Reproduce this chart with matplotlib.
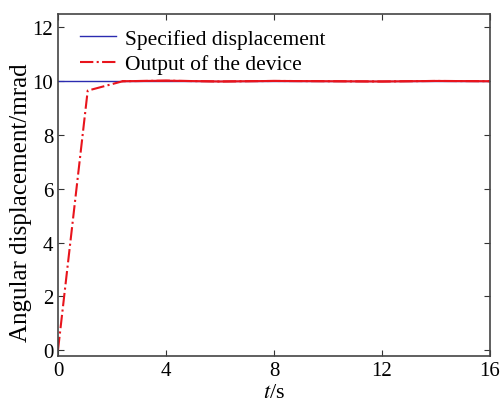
import matplotlib

matplotlib.use("Agg")
import matplotlib.pyplot as plt

# specified displacement (step to 10 mrad)
spec_t = [0, 16]
spec_val = [10, 10]

# device output
out_t = [0, 1.1, 2.4, 4, 6, 8, 10, 12, 14, 16]
out_val = [0, 9.65, 10.0, 10.02, 9.99, 10.01, 10.0, 9.99, 10.01, 10.0]
settle_idx = 2  # after this the trace is a dense noisy line that reads as solid

x_ticks = [0, 4, 8, 12, 16]
y_ticks = [0, 2, 4, 6, 8, 10, 12]

plt.rcParams["font.family"] = ["Liberation Serif", "DejaVu Serif"]
plt.rcParams["mathtext.fontset"] = "stix"

fig = plt.figure(figsize=(5.02, 4.02), dpi=100)
ax = fig.add_axes([58 / 502, 1 - 357 / 402, 432 / 502, 342 / 402])

red = "#e8141c"
ax.plot(spec_t, spec_val, color="#2b2bb0", lw=1.0, label="Specified displacement")
ax.plot(out_t, out_val, color=red, lw=1.5, ls="-.", label="Output of the device")
ax.plot(out_t[settle_idx:], out_val[settle_idx:], color=red, lw=1.5)

ax.set_xlim(0, 16)
ax.set_ylim(-0.22, 12.5)
ax.set_xticks(x_ticks)
ax.set_yticks(y_ticks)
ax.tick_params(direction="in", labelsize=15, length=4, color="#333333",
               top=True, right=True)
for s in ax.spines.values():
    s.set_color("#444444")
    s.set_linewidth(1.2)

ax.set_xlabel("$t$/s", fontsize=16, labelpad=2)
ax.set_ylabel("Angular displacement/mrad", fontsize=18)
ax.yaxis.set_label_coords(-0.06, 0.45)
ax.legend(loc="upper left", frameon=False, fontsize=15.5, handlelength=1.7,
          handletextpad=0.4, borderaxespad=0.2, labelspacing=0.25,
          bbox_to_anchor=(0.02, 0.995))

fig.savefig("out.png", dpi=100)
